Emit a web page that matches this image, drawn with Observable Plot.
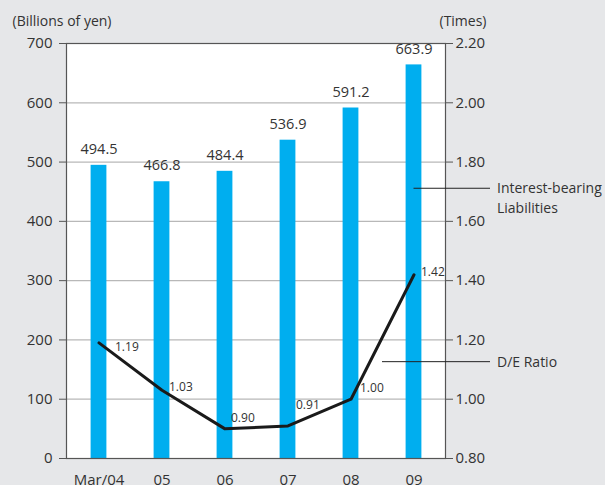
<!DOCTYPE html>
<html>
<head>
<meta charset="utf-8">
<script src="https://cdn.jsdelivr.net/npm/d3@7"></script>
<script src="https://cdn.jsdelivr.net/npm/@observablehq/plot@0.6"></script>
<style>
  html, body { margin: 0; padding: 0; background: #e6e7e9; }
  #chart { width: 605px; height: 485px; }
  svg { display: block; }
</style>
</head>
<body>
<div id="chart"></div>
<script>
// Fiscal years (March year-end)
const years = ["Mar/04", "05", "06", "07", "08", "09"];
// Interest-bearing liabilities, billions of yen
const liabilities = [494.5, 466.8, 484.4, 536.9, 591.2, 663.9];
// Debt/equity ratio, times
const deRatio = [1.19, 1.03, 0.90, 0.91, 1.00, 1.42];
// Axis ticks
const leftTicks = [0, 100, 200, 300, 400, 500, 600, 700];
const rightTicks = [0.80, 1.00, 1.20, 1.40, 1.60, 1.80, 2.00, 2.20];

// The right axis (0.80–2.20) shares the frame with the left axis (0–700)
const rMin = rightTicks[0], rMax = rightTicks[rightTicks.length - 1];
const lMax = leftTicks[leftTicks.length - 1];
const toLeft = r => (r - rMin) / (rMax - rMin) * lMax;
const toRight = l => rMin + l / lMax * (rMax - rMin);

const rows = years.map((year, i) => ({year, debt: liabilities[i], ratio: deRatio[i]}));

const ink = "#333";
const axisInk = "#555";
const barColor = "#00aeef";

// label nudges for the ratio values, [dx, dy]
const ratioNudge = [[16, 4], [7, -3], [6, -11], [8, -21], [9, -11], [7, -3]];

// leader lines and series names in the right margin
function seriesNames(index, scales, values, dim) {
  const {x, y} = scales;
  const bw = x.bandwidth();
  const right = dim.width - dim.marginRight;
  const g = d3.create("svg:g")
    .attr("font-family", "'Open Sans', sans-serif")
    .attr("font-size", 14)
    .attr("text-anchor", "start")
    .attr("fill", ink);
  const yDebt = y(455);
  g.append("line")
    .attr("x1", x("09") + bw / 2).attr("x2", right + 45)
    .attr("y1", yDebt).attr("y2", yDebt)
    .attr("stroke", "#222").attr("stroke-width", 1);
  const t = g.append("text").attr("x", right + 52).attr("y", yDebt);
  t.append("tspan").attr("x", right + 52).attr("dy", "0.35em").text("Interest-bearing");
  t.append("tspan").attr("x", right + 52).attr("dy", "1.4em").text("Liabilities");
  const yRatio = y(toLeft(1.125));
  g.append("line")
    .attr("x1", x("08") + bw).attr("x2", right + 45)
    .attr("y1", yRatio).attr("y2", yRatio)
    .attr("stroke", "#222").attr("stroke-width", 1);
  g.append("text").attr("x", right + 52).attr("y", yRatio).attr("dy", "0.35em").text("D/E Ratio");
  return g.node();
}

const chart = Plot.plot({
  width: 605,
  height: 485,
  marginTop: 43,
  marginRight: 160,
  marginBottom: 27,
  marginLeft: 66,
  style: {background: "transparent", fontFamily: "'Open Sans', sans-serif", fontSize: "15px", color: ink},
  x: {domain: years, padding: 0, label: null},
  y: {domain: [0, lMax], label: null},
  marks: [
    Plot.frame({fill: "white", stroke: null}),
    Plot.ruleY(leftTicks.slice(1, -1), {stroke: "#b8b8b8", strokeWidth: 1.3}),
    Plot.barY(rows, {x: "year", y: "debt", fill: barColor, insetLeft: 23.6, insetRight: 23.6}),
    Plot.text(rows, {x: "year", y: "debt", text: d => d.debt.toFixed(1), dy: -16, fontSize: 14.5, fill: ink}),
    Plot.line(rows, {x: "year", y: d => toLeft(d.ratio), stroke: "#1a1a1a", strokeWidth: 3}),
    ...rows.map((d, i) => Plot.text([d], {
      x: "year", y: r => toLeft(r.ratio), text: r => r.ratio.toFixed(2),
      dx: ratioNudge[i][0], dy: ratioNudge[i][1], textAnchor: "start",
      fontSize: 12, fill: ink
    })),
    Plot.frame({stroke: axisInk, strokeWidth: 1.2}),
    Plot.axisY({anchor: "left", ticks: leftTicks, tickSize: 7, tickPadding: 7, label: null, stroke: axisInk}),
    Plot.axisY({anchor: "right", ticks: rightTicks.map(toLeft), tickFormat: d => toRight(d).toFixed(2),
      tickSize: 7, tickPadding: 3, label: null, stroke: axisInk}),
    Plot.axisX({tickSize: 0, tickPadding: 16, label: null}),
    Plot.text(["(Billions of yen)"], {frameAnchor: "top-left", dx: -54, dy: -22, textAnchor: "start", lineAnchor: "middle", fontSize: 14, fill: ink}),
    Plot.text(["(Times)"], {frameAnchor: "top-right", dx: 41, dy: -22, textAnchor: "end", lineAnchor: "middle", fontSize: 14, fill: ink}),
    seriesNames
  ]
});

document.getElementById("chart").append(chart);
</script>
</body>
</html>
